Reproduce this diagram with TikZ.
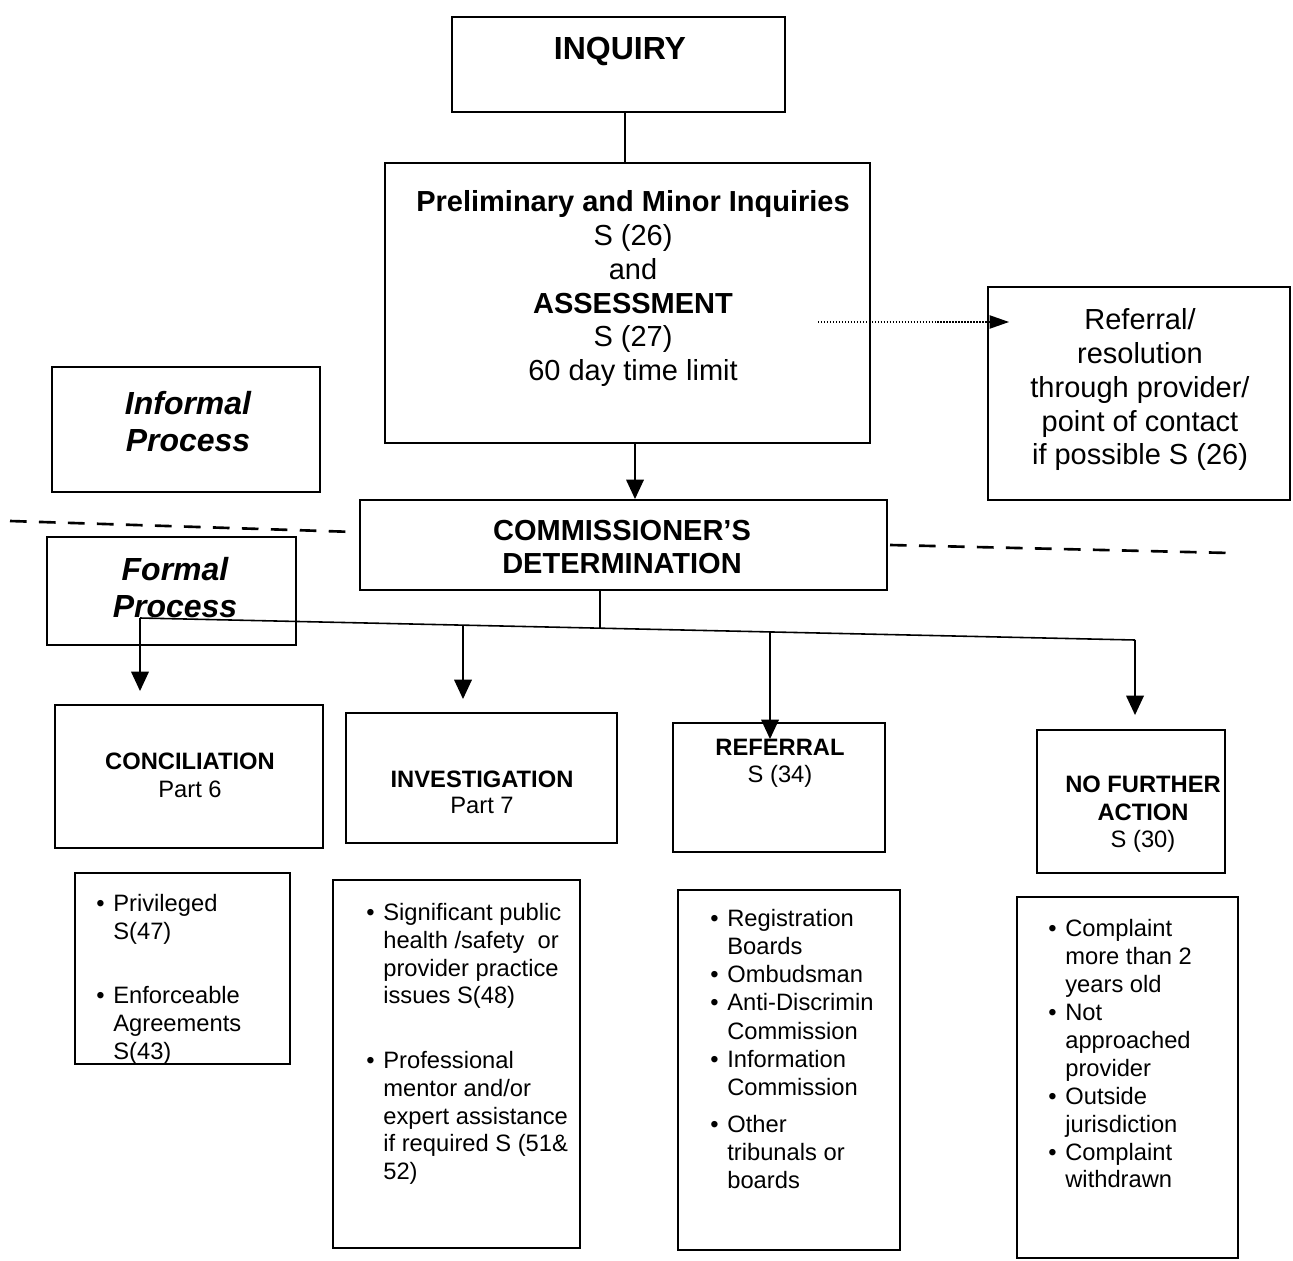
\documentclass[tikz,border=0pt]{standalone}
\usepackage{fontspec}
\setmainfont{Liberation Sans}
\usetikzlibrary{arrows.meta,fit}
\newcommand\bul{\llap{\textbullet\hspace{5pt}}}
\begin{document}
\begin{tikzpicture}[x=0.02cm,y=-0.02cm,
  box/.style={draw,line width=1.1pt,inner sep=0pt},
  lbl/.style={inner sep=0pt,align=center,anchor=north},
  lst/.style={inner sep=0pt,align=left,anchor=north west,font=\fontsize{13.5}{15.8}\selectfont},
  conn/.style={line width=0.9pt},
  arr/.style={-{Triangle[width=10pt,length=11pt]}},
  dashline/.style={line width=1.5pt,dash pattern=on 9.5pt off 7pt},
  dotline/.style={line width=0.8pt,dash pattern=on 0.8pt off 0.9pt}]
\fill[white] (0,0) rectangle (1293,1260);
\useasboundingbox (0,0) rectangle (1293,1260);

% top boxes
\node[box,fit={(452,17) (785,112)}] (inq) {};
\node[lbl,font=\bfseries\fontsize{18.2}{21}\selectfont] (inqT) at (620,37) {INQUIRY};

\node[box,fit={(385,163) (870,443)}] (pre) {};
\node[lbl,font=\fontsize{16.5}{19.3}\selectfont] (preT) at (633,190)
  {\textbf{Preliminary and Minor Inquiries}\\ S (26)\\ and\\ \textbf{ASSESSMENT}\\ S (27)\\ 60 day time limit};

\node[box,fit={(988,287) (1290,500)}] (ref) {};
\node[lbl,font=\fontsize{16.5}{19.3}\selectfont] (refT) at (1140,308)
  {Referral/\\ resolution\\ through provider/\\ point of contact\\ if possible S (26)};

\node[box,fit={(52,367) (320,492)}] (inf) {};
\node[lbl,font=\bfseries\itshape\fontsize{18.2}{21}\selectfont] (infT) at (188,391) {Informal\\ Process};

\node[box,fit={(360,500) (887,590)}] (com) {};
\node[lbl,font=\bfseries\fontsize{16.5}{18.7}\selectfont] (comT) at (622,520) {COMMISSIONER'S\\ DETERMINATION};

\node[box,fit={(47,537) (296,645)}] (frm) {};
\node[lbl,font=\bfseries\itshape\fontsize{18.2}{21}\selectfont] (frmT) at (175,557) {Formal\\ Process};

% outcome boxes
\node[box,fit={(55,705) (323,848)}] (conc) {};
\node[lbl,font=\fontsize{13.5}{15.9}\selectfont] (concT) at (190,753) {\textbf{CONCILIATION}\\ Part 6};

\node[box,fit={(346,713) (617,843)}] (inv) {};
\node[lbl,font=\fontsize{13.5}{14.5}\selectfont] (invT) at (482,771) {\textbf{INVESTIGATION}\\ Part 7};

\node[box,fit={(673,723) (885,852)}] (rfl) {};
\node[lbl,font=\fontsize{13.5}{15.3}\selectfont] (rflT) at (780,739) {\textbf{REFERRAL}\\ S (34)};

\node[box,fit={(1037,730) (1225,873)}] (nfa) {};
\node[lbl,font=\fontsize{13.5}{15.6}\selectfont] (nfaT) at (1143,776) {\textbf{NO FURTHER}\\ \textbf{ACTION}\\ S (30)};

% lists
\node[box,fit={(75,873) (290,1064)}] (l1) {};
\node[lst] (l1T) at (113,894) {\bul Privileged\\ S(47)\\[21pt] \bul Enforceable\\ Agreements\\ S(43)};

\node[box,fit={(333,880) (580,1248)}] (l2) {};
\node[lst] (l2T) at (383,903) {\bul Significant public\\ health /safety\ \ or\\ provider practice\\ issues S(48)\\[21pt] \bul Professional\\ mentor and/or\\ expert assistance\\ if required S (51\&\\ 52)};

\node[box,fit={(678,890) (900,1250)}] (l3) {};
\node[lst,font=\fontsize{13.5}{16}\selectfont] (l3T) at (727,909) {\bul Registration\\ Boards\\ \bul Ombudsman\\ \bul Anti-Discrimin\\ Commission\\ \bul Information\\ Commission\\[5pt] \bul Other\\ tribunals or\\ boards};

\node[box,fit={(1017,897) (1238,1258)}] (l4) {};
\node[lst,font=\fontsize{13.5}{15.9}\selectfont] (l4T) at (1065,919) {\bul Complaint\\ more than 2\\ years old\\ \bul Not\\ approached\\ provider\\ \bul Outside\\ jurisdiction\\ \bul Complaint\\ withdrawn};

% connectors
\coordinate (x625) at (625,0);
\coordinate (x635) at (635,0);
\draw[conn] (inq.south -| x625) -- (pre.north -| x625);
\draw[conn,arr] (pre.south -| x635) -- (com.north -| x635);

\coordinate (dotS) at (818,322);
\draw[dotline,-{Triangle[width=7.5pt,length=11pt]},shorten >=-0.44cm] (dotS) -- (ref.west |- dotS);

\draw[dashline] (10,521) -- (355,532);
\draw[dashline] (890,545) -- (1230,553);

\coordinate (b1) at (140,618);
\coordinate (b2) at (463,625.1);
\coordinate (b3) at (600,628.2);
\coordinate (b4) at (770,632);
\coordinate (b5) at (1135,640);
\draw[conn] (com.south -| b3) -- (b3);
\draw[conn] (b1) -- (b5);
\draw[conn,arr,shorten >=0.26cm] (b1) -- (conc.north -| b1);
\draw[conn,arr,shorten >=0.26cm] (b2) -- (inv.north -| b2);
\draw[conn,arr,shorten >=-0.34cm] (b4) -- (rfl.north -| b4);
\draw[conn,arr,shorten >=0.28cm] (b5) -- (nfa.north -| b5);
\end{tikzpicture}
\end{document}
